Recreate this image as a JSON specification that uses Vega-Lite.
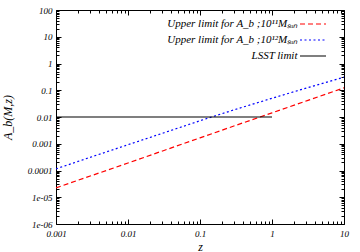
{
  "$schema": "https://vega.github.io/schema/vega-lite/v6.json",
  "width": 288,
  "height": 214,
  "autosize": {"type": "none"},
  "padding": {"left": 56, "top": 10, "right": 16, "bottom": 28},
  "background": "white",
  "config": {
    "view": {"stroke": "black", "strokeWidth": 1},
    "axis": {
      "grid": false,
      "zindex": 1,
      "ticks": true,
      "domain": false,
      "labelFont": "Liberation Serif",
      "labelFontStyle": "italic",
      "labelFontSize": 9,
      "labelColor": "black",
      "tickColor": "black",
      "tickWidth": 1,
      "titleFont": "Liberation Serif",
      "titleFontStyle": "italic",
      "titleFontWeight": "normal",
      "titleFontSize": 12,
      "titleColor": "black",
      "labelOverlap": false,
      "labelFlush": false
    },
    "legend": {
      "labelFont": "Liberation Serif",
      "labelFontStyle": "italic",
      "labelFontSize": 11,
      "labelColor": "black",
      "labelLimit": 300
    }
  },
  "data": {
    "values": [
      {"series": "Upper limit for A_b ;10¹¹Mₛᵤₙ", "z": 0.001, "A": 0.0000224},
      {"series": "Upper limit for A_b ;10¹¹Mₛᵤₙ", "z": 0.00316, "A": 0.0000653},
      {"series": "Upper limit for A_b ;10¹¹Mₛᵤₙ", "z": 0.01, "A": 0.0001905},
      {"series": "Upper limit for A_b ;10¹¹Mₛᵤₙ", "z": 0.0316, "A": 0.000562},
      {"series": "Upper limit for A_b ;10¹¹Mₛᵤₙ", "z": 0.1, "A": 0.00166},
      {"series": "Upper limit for A_b ;10¹¹Mₛᵤₙ", "z": 0.316, "A": 0.0049},
      {"series": "Upper limit for A_b ;10¹¹Mₛᵤₙ", "z": 1, "A": 0.0143},
      {"series": "Upper limit for A_b ;10¹¹Mₛᵤₙ", "z": 3.16, "A": 0.0417},
      {"series": "Upper limit for A_b ;10¹¹Mₛᵤₙ", "z": 10, "A": 0.123},
      {"series": "Upper limit for A_b ;10¹²Mₛᵤₙ", "z": 0.001, "A": 0.000115},
      {"series": "Upper limit for A_b ;10¹²Mₛᵤₙ", "z": 0.00316, "A": 0.000327},
      {"series": "Upper limit for A_b ;10¹²Mₛᵤₙ", "z": 0.01, "A": 0.00092},
      {"series": "Upper limit for A_b ;10¹²Mₛᵤₙ", "z": 0.0316, "A": 0.00257},
      {"series": "Upper limit for A_b ;10¹²Mₛᵤₙ", "z": 0.1, "A": 0.00724},
      {"series": "Upper limit for A_b ;10¹²Mₛᵤₙ", "z": 0.316, "A": 0.0195},
      {"series": "Upper limit for A_b ;10¹²Mₛᵤₙ", "z": 1, "A": 0.0501},
      {"series": "Upper limit for A_b ;10¹²Mₛᵤₙ", "z": 3.16, "A": 0.126},
      {"series": "Upper limit for A_b ;10¹²Mₛᵤₙ", "z": 10, "A": 0.309},
      {"series": "LSST limit", "z": 0.001, "A": 0.01},
      {"series": "LSST limit", "z": 1, "A": 0.01}
    ]
  },
  "layer": [
    {
      "mark": {"type": "line", "strokeWidth": 1.2, "clip": true},
      "encoding": {
        "x": {
          "field": "z", "type": "quantitative",
          "scale": {"type": "log", "domain": [0.001, 10], "nice": false},
          "axis": {
            "orient": "bottom",
            "title": "z",
            "titlePadding": 1,
            "labelPadding": 10,
            "tickSize": {"condition": {"test": "indexof([0.001,0.01,0.1,1,10], datum.value) >= 0", "value": -5}, "value": -3},
            "values": [0.001,0.002,0.003,0.004,0.005,0.006,0.007,0.008,0.009,0.01,0.02,0.03,0.04,0.05,0.06,0.07,0.08,0.09,0.1,0.2,0.3,0.4,0.5,0.6,0.7,0.8,0.9,1,2,3,4,5,6,7,8,9,10],
            "labelExpr": "datum.value == 0.001 ? '0.001' : datum.value == 0.01 ? '0.01' : datum.value == 0.1 ? '0.1' : datum.value == 1 ? '1' : datum.value == 10 ? '10' : ''"
          }
        },
        "y": {
          "field": "A", "type": "quantitative",
          "scale": {"type": "log", "domain": [0.000001, 100], "nice": false},
          "axis": {
            "orient": "left",
            "title": "A_b(M,z)",
            "titlePadding": 13,
            "labelPadding": 9,
            "tickSize": {"condition": {"test": "indexof([0.000001,0.00001,0.0001,0.001,0.01,0.1,1,10,100], datum.value) >= 0", "value": -5}, "value": -3},
            "values": [0.000001,0.000002,0.000003,0.000004,0.000005,0.000006,0.000007,0.000008,0.000009,0.00001,0.00002,0.00003,0.00004,0.00005,0.00006,0.00007,0.00008,0.00009,0.0001,0.0002,0.0003,0.0004,0.0005,0.0006,0.0007,0.0008,0.0009,0.001,0.002,0.003,0.004,0.005,0.006,0.007,0.008,0.009,0.01,0.02,0.03,0.04,0.05,0.06,0.07,0.08,0.09,0.1,0.2,0.3,0.4,0.5,0.6,0.7,0.8,0.9,1,2,3,4,5,6,7,8,9,10,20,30,40,50,60,70,80,90,100],
            "labelExpr": "datum.value == 0.000001 ? '1e-06' : datum.value == 0.00001 ? '1e-05' : datum.value == 0.0001 ? '0.0001' : datum.value == 0.001 ? '0.001' : datum.value == 0.01 ? '0.01' : datum.value == 0.1 ? '0.1' : datum.value == 1 ? '1' : datum.value == 10 ? '10' : datum.value == 100 ? '100' : ''"
          }
        },
        "color": {
          "field": "series", "type": "nominal",
          "scale": {
            "domain": ["Upper limit for A_b ;10¹¹Mₛᵤₙ", "Upper limit for A_b ;10¹²Mₛᵤₙ", "LSST limit"],
            "range": ["#ff0000", "#0000ff", "#000000"]
          },
          "legend": {
            "title": null,
            "orient": "none",
            "legendX": 249.5,
            "legendY": 6.5,
            "padding": 0,
            "symbolType": "M-2,0H2",
            "symbolSize": 169,
            "symbolStrokeWidth": 1.2,
            "labelAlign": "right",
            "labelOffset": -23,
            "rowPadding": 3
          }
        },
        "strokeDash": {
          "field": "series", "type": "nominal",
          "scale": {
            "domain": ["Upper limit for A_b ;10¹¹Mₛᵤₙ", "Upper limit for A_b ;10¹²Mₛᵤₙ", "LSST limit"],
            "range": [[5, 3], [2, 2.5], [1, 0]]
          },
          "legend": null
        }
      }
    },
    {
      "mark": {"type": "line", "strokeOpacity": 0},
      "encoding": {
        "x": {
          "field": "z", "type": "quantitative",
          "scale": {"type": "log", "domain": [0.001, 10], "nice": false},
          "axis": {
            "orient": "top", "title": null, "labels": false,
            "tickSize": {"condition": {"test": "indexof([0.001,0.01,0.1,1,10], datum.value) >= 0", "value": -5}, "value": -3},
            "values": [0.001,0.002,0.003,0.004,0.005,0.006,0.007,0.008,0.009,0.01,0.02,0.03,0.04,0.05,0.06,0.07,0.08,0.09,0.1,0.2,0.3,0.4,0.5,0.6,0.7,0.8,0.9,1,2,3,4,5,6,7,8,9,10]
          }
        },
        "y": {
          "field": "A", "type": "quantitative",
          "scale": {"type": "log", "domain": [0.000001, 100], "nice": false},
          "axis": {
            "orient": "right", "title": null, "labels": false,
            "tickSize": {"condition": {"test": "indexof([0.000001,0.00001,0.0001,0.001,0.01,0.1,1,10,100], datum.value) >= 0", "value": -5}, "value": -3},
            "values": [0.000001,0.000002,0.000003,0.000004,0.000005,0.000006,0.000007,0.000008,0.000009,0.00001,0.00002,0.00003,0.00004,0.00005,0.00006,0.00007,0.00008,0.00009,0.0001,0.0002,0.0003,0.0004,0.0005,0.0006,0.0007,0.0008,0.0009,0.001,0.002,0.003,0.004,0.005,0.006,0.007,0.008,0.009,0.01,0.02,0.03,0.04,0.05,0.06,0.07,0.08,0.09,0.1,0.2,0.3,0.4,0.5,0.6,0.7,0.8,0.9,1,2,3,4,5,6,7,8,9,10,20,30,40,50,60,70,80,90,100]
          }
        }
      }
    }
  ],
  "resolve": {"axis": {"x": "independent", "y": "independent"}}
}
